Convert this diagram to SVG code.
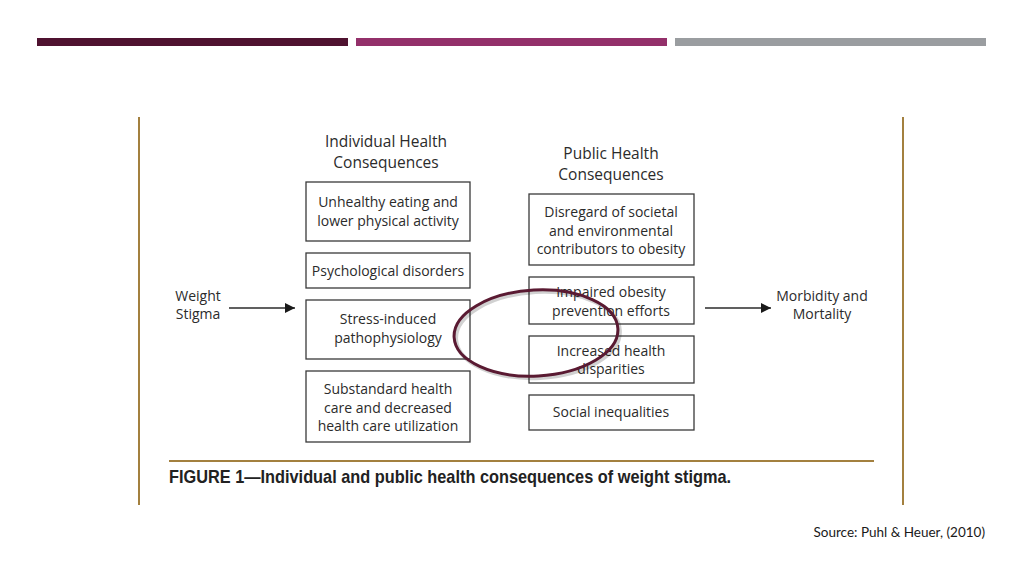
<svg xmlns="http://www.w3.org/2000/svg" width="1024" height="576" viewBox="0 0 1024 576">
<defs>
<style>
.box{fill:#fff;stroke:#3a3a3a;stroke-width:1.3}
.t{font-family:"Open Sans","Liberation Sans",sans-serif;font-size:14px;fill:#2b2b2b;text-anchor:middle}
.h{font-family:"Open Sans","Liberation Sans",sans-serif;font-size:15.5px;fill:#2b2b2b;text-anchor:middle}
.gold{stroke:#a3803f;stroke-width:2;fill:none}
.conn{stroke:#2b2b2b;stroke-width:1.3;fill:none}
</style>
<marker id="arr" viewBox="0 0 10 10" refX="10" refY="5" markerWidth="10" markerHeight="10" markerUnits="userSpaceOnUse" orient="auto">
<path d="M0,0 L10,5 L0,10 z" fill="#1a1a1a"/>
</marker>
</defs>
<rect width="1024" height="576" fill="#fff"/>
<g id="topbars">
<rect x="37" y="38" width="311" height="8" fill="#4f1230"/>
<rect x="356" y="38" width="311" height="8" fill="#93306a"/>
<rect x="675" y="38" width="311" height="8" fill="#9a9da0"/>
</g>
<g id="frame">
<line class="gold" x1="139" y1="117" x2="139" y2="505"/>
<line class="gold" x1="903" y1="117" x2="903" y2="505"/>
<line class="gold" x1="169" y1="461" x2="874" y2="461"/>
</g>
<g id="headers">
<text class="h" x="386" y="147">Individual Health</text>
<text class="h" x="386" y="168">Consequences</text>
<text class="h" x="611" y="159">Public Health</text>
<text class="h" x="611" y="180">Consequences</text>
</g>
<g id="weight-stigma">
<text class="t" x="198" y="301">Weight</text>
<text class="t" x="198" y="319">Stigma</text>
</g>
<g id="morbidity">
<text class="t" x="822" y="301">Morbidity and</text>
<text class="t" x="822" y="319">Mortality</text>
</g>
<g id="ind1"><rect class="box" x="306" y="182" width="164" height="59"/>
<text class="t" x="388" y="207">Unhealthy eating and</text><text class="t" x="388" y="226">lower physical activity</text></g>
<g id="ind2"><rect class="box" x="306" y="253" width="164" height="35"/>
<text class="t" x="388" y="276">Psychological disorders</text></g>
<g id="ind3"><rect class="box" x="306" y="300" width="164" height="59"/>
<text class="t" x="388" y="324">Stress-induced</text><text class="t" x="388" y="343">pathophysiology</text></g>
<g id="ind4"><rect class="box" x="306" y="371" width="164" height="71"/>
<text class="t" x="388" y="394">Substandard health</text><text class="t" x="388" y="413">care and decreased</text><text class="t" x="388" y="431">health care utilization</text></g>
<g id="pub1"><rect class="box" x="529" y="194" width="165" height="71"/>
<text class="t" x="611" y="217">Disregard of societal</text><text class="t" x="611" y="236">and environmental</text><text class="t" x="611" y="254">contributors to obesity</text></g>
<g id="pub2"><rect class="box" x="529" y="277" width="165" height="47"/>
<text class="t" x="611" y="297">Impaired obesity</text><text class="t" x="611" y="316">prevention efforts</text></g>
<g id="pub3"><rect class="box" x="529" y="336" width="165" height="47"/>
<text class="t" x="611" y="356">Increased health</text><text class="t" x="611" y="374">disparities</text></g>
<g id="pub4"><rect class="box" x="529" y="395" width="165" height="35"/>
<text class="t" x="611" y="417">Social inequalities</text></g>
<g id="connectors">
<line class="conn" x1="229" y1="308" x2="295" y2="308" marker-end="url(#arr)"/>
<line class="conn" x1="705" y1="308" x2="771" y2="308" marker-end="url(#arr)"/>
</g>
<g id="highlight">
<ellipse cx="538" cy="335" rx="82" ry="43" transform="rotate(-3 538 335)" fill="none" stroke="#000" stroke-opacity="0.18" stroke-width="4"/>
<ellipse cx="536" cy="333" rx="82" ry="43" transform="rotate(-3 536 333)" fill="none" stroke="#5a1a32" stroke-width="3"/>
</g>
<text x="169" y="483" font-family="Liberation Sans,sans-serif" font-weight="bold" font-size="19" fill="#222" textLength="562" lengthAdjust="spacingAndGlyphs">FIGURE 1—Individual and public health consequences of weight stigma.</text>
<text x="985" y="537" font-family="Lato,sans-serif" font-size="13.5" fill="#1a1a1a" text-anchor="end">Source: Puhl &amp; Heuer, (2010)</text>
</svg>
